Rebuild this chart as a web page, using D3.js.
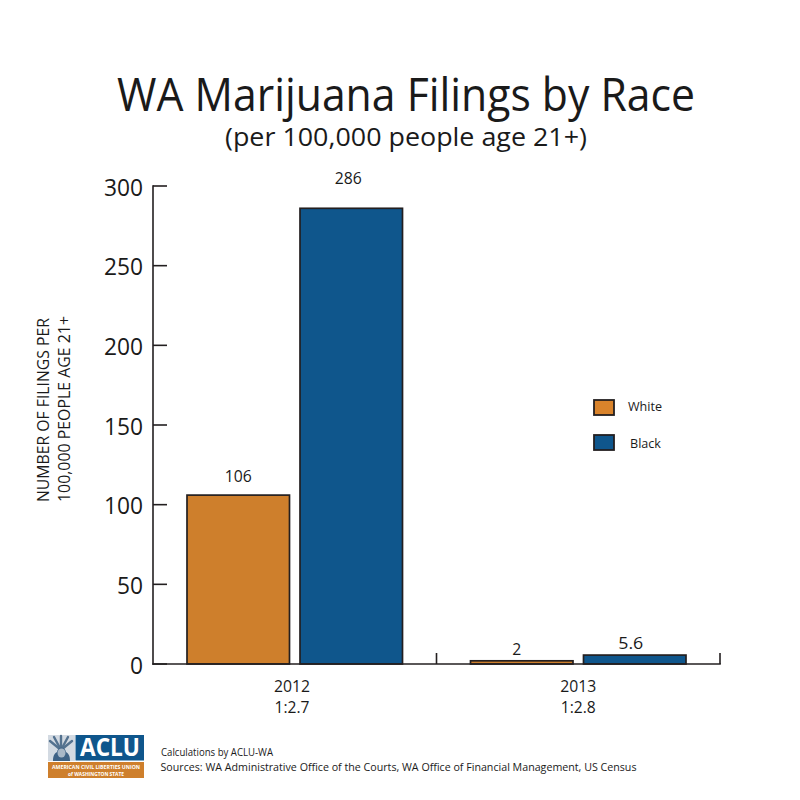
<!DOCTYPE html>
<html><head><meta charset="utf-8">
<script src="https://d3js.org/d3.v7.min.js"></script>
<style>html,body{margin:0;background:#fff}svg{display:block}text{font-family:"Open Sans","Noto Sans",sans-serif;fill:#1a1a1a}</style>
</head><body><svg id="c" width="800" height="800"></svg>
<script>
const years=["2012","2013"];
const ratios=["1:2.7","1:2.8"];
const seriesNames=["White","Black"];
const whiteValues=[106,2];
const blackValues=[286,5.6];
const valueLabels=[["106","286"],["2","5.6"]];
const yTicks=[0,50,100,150,200,250,300];
const colors=["#ce7f2c","#0f568c"];
const svg=d3.select("#c");
const y=d3.scaleLinear().domain([0,300]).range([664,186]);
const x=d3.scaleBand().domain(years).range([153,720]);
const x1=d3.scaleBand().domain(seriesNames).range([34,249.5]).paddingInner(0.093);
const ink="#231f20";
// adds text horizontally squeezed to a given length, closer to the original's narrower typeface
function label(px,py,str,size,len,anchor,parent){
  const t=(parent||svg).append("text").attr("x",px).attr("y",py).attr("font-size",size).attr("text-anchor",anchor||"middle").text(str);
  if(len) t.attr("textLength",len).attr("lengthAdjust","spacingAndGlyphs");
  return t;
}
label(406,111,"WA Marijuana Filings by Race",45,578);
label(406,146,"(per 100,000 people age 21+)",25.5,362);
const labelDx=[[0,-3],[-5,-4]], labelGap=[[13,24],[6,6]], labelLen=[[27,27],[9,25]];
years.forEach((yr,i)=>{
  const vals=[whiteValues[i],blackValues[i]];
  const g=svg.append("g").attr("transform",`translate(${x(yr)},0)`);
  g.selectAll("rect").data(vals).join("rect")
    .attr("x",(d,j)=>x1(seriesNames[j])).attr("width",x1.bandwidth())
    .attr("y",d=>y(d)).attr("height",d=>y(0)-y(d))
    .attr("fill",(d,j)=>colors[j]).attr("stroke",ink).attr("stroke-width",1.7);
  vals.forEach((d,j)=>label(x1(seriesNames[j])+x1.bandwidth()/2+labelDx[i][j],y(d)-labelGap[i][j],valueLabels[i][j],17,labelLen[i][j],"middle",g));
  const cx=x(yr)+x.bandwidth()/2-[2.7,1][i]+[0,1][i];
  label(cx,692,yr,17,36);
  label(cx,713,ratios[i],17,35);
});
const ax=svg.append("g").attr("stroke",ink).attr("stroke-width",1.6).attr("fill","none");
ax.append("line").attr("x1",153).attr("x2",153).attr("y1",y(300)-.8).attr("y2",y(0)+.8);
ax.append("line").attr("x1",152.2).attr("x2",720.8).attr("y1",y(0)).attr("y2",y(0));
ax.selectAll(".yt").data(yTicks).join("line").attr("class","yt").attr("x1",153).attr("x2",167).attr("y1",d=>y(d)).attr("y2",d=>y(d));
ax.selectAll(".xt").data([x.range()[0]+x.bandwidth(),x.range()[1]]).join("line").attr("class","xt").attr("x1",d=>d).attr("x2",d=>d).attr("y1",y(0)).attr("y2",y(0)-11);
yTicks.forEach(d=>label(143,y(d)+9.5,String(d),23.5,String(d).length*13,"end"));
label(0,0,"NUMBER OF FILINGS PER",16.5,184,"start").attr("transform","translate(49,502) rotate(-90)");
label(0,0,"100,000 PEOPLE AGE 21+",16.5,186,"start").attr("transform","translate(70,502) rotate(-90)");
seriesNames.forEach((n,i)=>{
  const ly=[400,435][i];
  svg.append("rect").attr("x",594).attr("y",ly).attr("width",20).attr("height",15).attr("fill",colors[i]==="#ce7f2c"?"#d9832b":colors[i]).attr("stroke",ink).attr("stroke-width",1.8);
  label([628,630][i],[411,448][i],n,13,[34,31][i],"start");
});
const logo=svg.append("g");
logo.append("rect").attr("x",48).attr("y",735).attr("width",27).attr("height",26).attr("fill","#d3dae2");
logo.append("g").attr("stroke","#54728f").attr("stroke-width",2.4).attr("stroke-linecap","round").selectAll("line")
  .data([[50,741],[54,737],[61,736],[68,737],[72,741]]).join("line")
  .attr("x1",61).attr("y1",750).attr("x2",d=>d[0]).attr("y2",d=>d[1]);
logo.append("path").attr("d","M53 761c0-6 2-8 4-9 1-6 8-6 9 0 3 2 4 4 4 9z").attr("fill","#3f6386");
logo.append("ellipse").attr("cx",61.5).attr("cy",753).attr("rx",4).attr("ry",4.5).attr("fill","#a9b8c7");
logo.append("rect").attr("x",75.5).attr("y",735).attr("width",68.5).attr("height",25.5).attr("fill","#0f568c");
label(110,756,"ACLU",25,60,"middle",logo).attr("font-weight",700).style("fill","#fff");
logo.append("rect").attr("x",48).attr("y",762).attr("width",96).attr("height",16).attr("fill","#ce7f2c");
label(96,769,"AMERICAN CIVIL LIBERTIES UNION",5,88,"middle",logo).attr("font-weight",700).style("fill","#fff");
label(96,775.5,"of WASHINGTON STATE",5,56,"middle",logo).attr("font-weight",700).style("fill","#fff");
label(161,756,"Calculations by ACLU-WA",11,112,"start");
label(160.5,771,"Sources: WA Administrative Office of the Courts, WA Office of Financial Management, US Census",11,476,"start");
</script></body></html>
